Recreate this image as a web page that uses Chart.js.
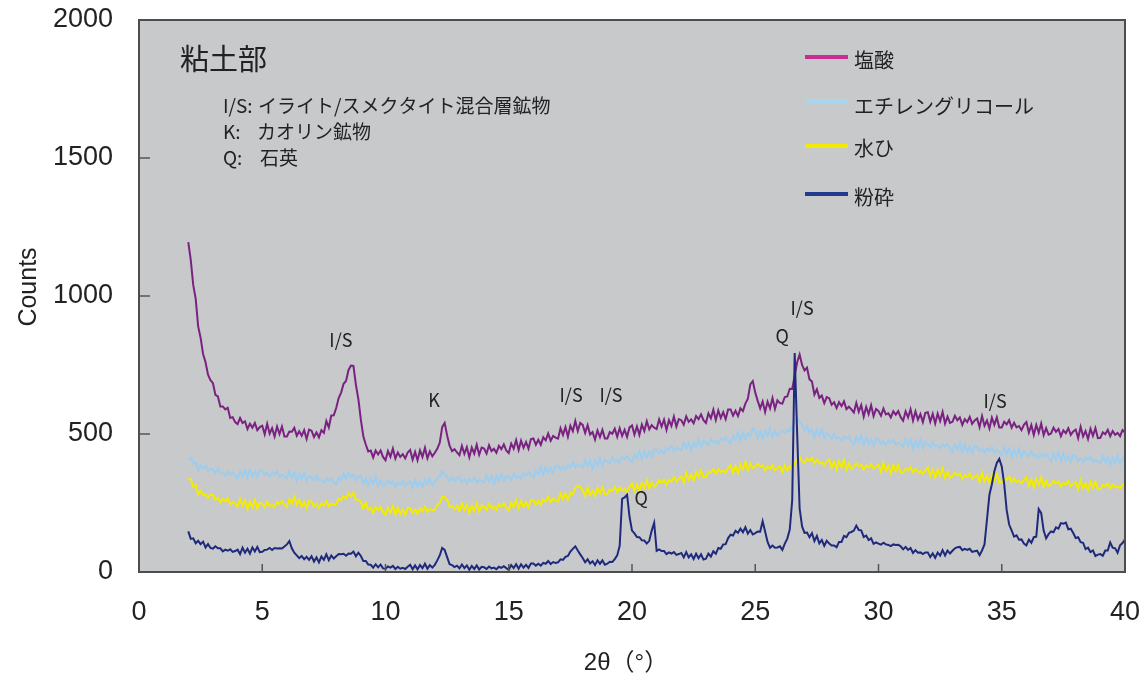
<!DOCTYPE html>
<html><head><meta charset="utf-8">
<script src="https://cdn.jsdelivr.net/npm/chart.js@4.4.1/dist/chart.umd.min.js"></script>
<style>html,body{margin:0;padding:0;background:#fff;}#wrap{width:1144px;height:679px;position:relative;}</style>
</head><body><div id="wrap"><canvas id="c" width="1144" height="679"></canvas></div>
<script>
// 2θ (degrees) sample positions
const twoTheta = [
2.0,2.1,2.2,2.3,2.4,2.5,2.6,2.7,2.8,2.9,
3.0,3.1,3.2,3.3,3.4,3.5,3.6,3.7,3.8,3.9,
4.0,4.1,4.2,4.3,4.4,4.5,4.6,4.7,4.8,4.9,
5.0,5.1,5.2,5.3,5.4,5.5,5.6,5.7,5.8,5.9,
6.0,6.1,6.2,6.3,6.4,6.5,6.6,6.7,6.8,6.9,
7.0,7.1,7.2,7.3,7.4,7.5,7.6,7.7,7.8,7.9,
8.0,8.1,8.2,8.3,8.4,8.5,8.6,8.7,8.8,8.9,
9.0,9.1,9.2,9.3,9.4,9.5,9.6,9.7,9.8,9.9,
10.0,10.1,10.2,10.3,10.4,10.5,10.6,10.7,10.8,10.9,
11.0,11.1,11.2,11.3,11.4,11.5,11.6,11.7,11.8,11.9,
12.0,12.1,12.2,12.3,12.4,12.5,12.6,12.7,12.8,12.9,
13.0,13.1,13.2,13.3,13.4,13.5,13.6,13.7,13.8,13.9,
14.0,14.1,14.2,14.3,14.4,14.5,14.6,14.7,14.8,14.9,
15.0,15.1,15.2,15.3,15.4,15.5,15.6,15.7,15.8,15.9,
16.0,16.1,16.2,16.3,16.4,16.5,16.6,16.7,16.8,16.9,
17.0,17.1,17.2,17.3,17.4,17.5,17.6,17.7,17.8,17.9,
18.0,18.1,18.2,18.3,18.4,18.5,18.6,18.7,18.8,18.9,
19.0,19.1,19.2,19.3,19.4,19.5,19.6,19.7,19.8,19.9,
20.0,20.1,20.2,20.3,20.4,20.5,20.6,20.7,20.8,20.9,
21.0,21.1,21.2,21.3,21.4,21.5,21.6,21.7,21.8,21.9,
22.0,22.1,22.2,22.3,22.4,22.5,22.6,22.7,22.8,22.9,
23.0,23.1,23.2,23.3,23.4,23.5,23.6,23.7,23.8,23.9,
24.0,24.1,24.2,24.3,24.4,24.5,24.6,24.7,24.8,24.9,
25.0,25.1,25.2,25.3,25.4,25.5,25.6,25.7,25.8,25.9,
26.0,26.1,26.2,26.3,26.4,26.5,26.6,26.7,26.8,26.9,
27.0,27.1,27.2,27.3,27.4,27.5,27.6,27.7,27.8,27.9,
28.0,28.1,28.2,28.3,28.4,28.5,28.6,28.7,28.8,28.9,
29.0,29.1,29.2,29.3,29.4,29.5,29.6,29.7,29.8,29.9,
30.0,30.1,30.2,30.3,30.4,30.5,30.6,30.7,30.8,30.9,
31.0,31.1,31.2,31.3,31.4,31.5,31.6,31.7,31.8,31.9,
32.0,32.1,32.2,32.3,32.4,32.5,32.6,32.7,32.8,32.9,
33.0,33.1,33.2,33.3,33.4,33.5,33.6,33.7,33.8,33.9,
34.0,34.1,34.2,34.3,34.4,34.5,34.6,34.7,34.8,34.9,
35.0,35.1,35.2,35.3,35.4,35.5,35.6,35.7,35.8,35.9,
36.0,36.1,36.2,36.3,36.4,36.5,36.6,36.7,36.8,36.9,
37.0,37.1,37.2,37.3,37.4,37.5,37.6,37.7,37.8,37.9,
38.0,38.1,38.2,38.3,38.4,38.5,38.6,38.7,38.8,38.9,
39.0,39.1,39.2,39.3,39.4,39.5,39.6,39.7,39.8,39.9,
40.0];

// 塩酸
const hclCounts = [
1195,1130,1040,990,890,848,790,760,715,695,
684,642,636,600,600,589,595,558,561,543,
536,558,540,546,518,537,523,540,514,525,
530,499,537,501,521,491,527,500,527,491,
491,509,508,522,494,510,494,514,482,516,
512,489,506,488,514,504,547,524,567,568,
594,630,650,682,692,732,748,747,678,626,
552,492,462,437,440,415,440,426,440,417,
405,438,417,447,411,433,417,427,412,433,
442,407,435,405,441,417,450,412,437,419,
432,446,468,525,540,495,458,438,445,433,
423,457,428,452,416,451,429,461,425,451,
447,429,459,438,446,432,457,445,462,440,
431,465,447,478,442,476,450,471,447,482,
484,461,479,461,488,477,502,476,493,487,
483,521,497,525,490,530,510,547,511,540,
533,504,532,498,507,480,513,489,515,484,
484,507,501,519,490,521,493,515,490,524,
531,498,527,497,534,511,546,517,532,523,
518,553,527,552,515,550,529,563,527,554,
550,534,564,544,553,539,565,554,571,550,
540,575,557,588,551,585,558,579,554,589,
589,567,584,565,593,583,610,628,680,692,
650,620,593,618,580,617,593,630,591,622,
612,610,634,636,664,663,712,760,788,750,
730,740,698,690,643,662,631,639,612,634,
630,606,615,594,615,601,618,590,599,589,
578,613,581,605,563,598,572,604,565,591,
583,566,592,571,575,560,582,570,583,561,
548,582,560,590,549,582,552,572,543,577,
579,545,573,538,574,547,580,538,563,540,
544,566,550,560,533,554,543,562,537,549,
556,525,565,530,549,520,559,533,560,524,
524,544,535,550,523,541,524,529,514,533,
543,505,532,497,533,505,538,496,521,498,
502,523,508,518,492,513,503,521,497,509,
516,485,526,491,511,482,519,493,521,485,
486,506,499,515,492,511,497,504,492,514,
505];

// エチレングリコール
const egCounts = [
409,415,392,398,369,386,375,386,365,374,
371,358,375,358,360,349,364,354,363,347,
338,365,347,371,342,370,346,364,343,370,
368,352,361,345,361,352,365,344,352,345,
338,365,341,360,329,356,336,360,330,349,
343,330,349,332,335,323,340,330,339,324,
317,345,332,357,336,361,345,352,333,347,
348,320,339,313,339,319,343,311,330,313,
316,333,320,329,308,325,316,331,311,323,
327,305,335,311,326,306,334,317,338,315,
326,340,346,365,355,345,330,342,328,340,
343,325,335,320,337,328,344,324,335,328,
323,350,329,348,319,347,330,355,327,348,
344,333,356,341,348,338,358,351,364,350,
341,370,355,381,352,380,359,377,358,386,
385,370,382,369,388,381,397,379,390,385,
379,406,383,404,374,403,385,412,384,406,
402,392,414,400,406,397,416,409,421,407,
398,427,412,438,409,438,416,435,416,444,
443,429,441,429,448,442,458,439,450,445,
440,469,448,469,440,469,453,480,452,474,
470,460,482,468,474,465,484,477,489,475,
466,495,480,505,476,504,483,502,493,519,
512,485,508,483,513,493,520,489,511,494,
503,512,505,515,510,530,538,560,545,535,
513,528,506,516,487,515,493,518,485,505,
495,484,500,485,486,476,490,482,490,475,
461,489,470,494,461,488,463,480,457,484,
480,465,473,460,475,468,480,461,468,463,
454,483,458,479,446,475,454,481,449,471,
463,453,471,456,458,448,463,455,463,448,
435,463,444,468,436,463,437,454,431,458,
453,437,446,432,447,439,452,432,440,434,
425,453,428,448,415,443,422,448,416,437,
429,418,436,421,423,413,428,420,428,413,
401,429,410,434,402,429,403,420,397,424,
419,403,412,398,414,406,419,399,407,401,
393,421,397,417,385,413,395,421,392,413,
404];

// 水ひ
const elutriatedCounts = [
336,336,309,315,282,295,279,281,268,281,
280,262,268,252,266,256,267,245,254,246,
237,264,240,259,227,255,235,261,230,251,
246,235,254,239,244,235,253,246,258,243,
235,264,249,273,244,261,237,253,231,257,
254,237,247,232,249,241,256,237,248,244,
245,265,260,275,266,284,273,288,263,261,
255,230,250,226,234,215,236,225,235,218,
207,233,216,239,208,233,210,226,207,233,
231,214,226,211,230,221,237,217,229,223,
226,242,250,273,271,262,236,240,228,240,
221,248,225,244,213,240,223,249,220,241,
236,225,246,231,236,226,245,237,248,233,
223,251,236,260,231,258,236,253,234,261,
260,244,257,243,263,255,273,253,266,260,
256,284,264,285,262,286,282,305,312,308,
297,275,306,279,294,275,304,285,307,281,
282,299,294,308,289,306,294,301,291,308,
320,294,317,293,323,305,333,303,325,309,
315,333,323,333,316,334,328,344,328,339,
346,325,359,334,352,332,362,344,368,343,
345,363,360,373,356,372,362,368,360,376,
387,360,384,359,390,371,399,368,392,376,
381,393,382,387,368,381,375,386,369,376,
383,362,386,368,383,372,396,405,418,400,
396,410,404,413,394,407,394,397,387,400,
408,378,400,372,401,379,405,371,393,373,
379,393,383,389,371,385,379,391,374,381,
388,363,396,366,383,358,388,365,388,358,
360,374,369,379,361,374,362,365,356,369,
378,348,370,342,371,349,375,341,362,342,
347,361,350,356,337,351,344,356,338,345,
351,326,359,330,347,323,353,331,354,325,
326,340,335,345,326,339,327,330,321,334,
343,313,336,308,338,316,343,309,331,311,
317,331,321,327,309,323,317,329,312,319,
325,300,333,304,321,297,327,305,328,299,
301,315,311,321,303,316,307,310,303,316,
312];

// 粉砕
const groundCounts = [
147,120,122,104,113,101,110,89,101,87,
85,93,86,86,75,81,77,82,73,76,
81,65,88,70,84,67,89,74,91,72,
73,80,81,87,80,87,85,86,85,92,
100,112,86,70,60,50,58,46,55,44,
57,38,53,35,56,44,64,43,60,49,
57,65,64,66,59,67,66,74,57,70,
58,40,40,27,26,16,28,17,27,13,
12,20,16,22,11,19,12,15,11,19,
26,10,24,10,25,14,30,12,25,16,
26,42,60,87,80,54,28,25,18,23,
13,27,14,24,8,22,11,24,9,19,
17,11,20,13,16,10,19,15,21,14,
8,25,14,28,12,28,16,26,15,31,
31,23,30,23,33,30,40,29,36,33,
35,46,44,55,58,74,84,93,78,64,
51,35,46,31,39,25,42,30,42,26,
30,37,36,47,60,95,265,270,280,200,
150,140,127,126,115,114,103,113,150,178,
77,82,76,76,65,71,67,72,62,65,
69,53,72,53,64,47,66,50,64,45,
48,67,56,75,66,87,84,100,101,123,
135,132,149,142,157,144,162,139,152,136,
141,147,146,184,147,109,88,96,88,89,
93,80,103,121,154,261,793,503,230,165,
142,143,126,141,112,131,104,116,95,113,
103,96,96,90,109,109,131,126,142,145,
150,168,152,151,127,132,116,122,102,107,
103,99,106,100,98,94,100,98,99,93,
82,91,80,87,69,79,70,71,65,71,
71,54,67,51,70,59,79,60,78,67,
77,86,90,91,79,84,80,84,73,75,
77,61,78,100,190,280,318,365,395,410,
382,318,224,172,151,128,133,117,118,103,
96,117,106,126,128,228,213,150,122,137,
147,144,162,157,177,175,179,155,157,141,
123,126,108,106,83,88,72,78,58,63,
65,59,78,78,107,88,86,70,97,105,
118];

const seriesNames = ['塩酸', 'エチレングリコール', '水ひ', '粉砕'];
const xTickValues = [0, 5, 10, 15, 20, 25, 30, 35, 40];
const yTickValues = [0, 500, 1000, 1500, 2000];
const chartTitle = '粘土部';
const noteKeys = ['I/S:', 'K:', 'Q:'];
const noteTexts = ['イライト/スメクタイト混合層鉱物', 'カオリン鉱物', '石英'];
const peakLabels = ['I/S', 'K', 'I/S', 'I/S', 'Q', 'Q', 'I/S', 'I/S'];
const peakLabelTheta = [8.19, 11.97, 17.53, 19.15, 20.37, 26.09, 26.9, 34.73];
const peakLabelCounts = [841, 623, 641, 641, 268, 855, 957, 620];
const xTitle = '2θ（°）';
const yTitle = 'Counts';

// styles
const traceColors = ['#7a2282', '#9ccdef', '#f3ec00', '#1f2a7c'];
const legendColors = ['#cc2b93', '#a8d6ec', '#f2ea00', '#243a8e'];
const legendY = [57, 101, 146, 194];
const legendTextY = [60, 106, 148, 197];
const drawOrder = [3, 2, 1, 0];

function pts(vals) { return twoTheta.map((t, i) => ({x: t, y: vals[i]})); }
const allVals = [hclCounts, egCounts, elutriatedCounts, groundCounts];

const CJK = '"Noto Sans CJK JP", "Noto Sans", sans-serif';
const NUM = '"Liberation Sans", Arial, sans-serif';

const decor = {
  id: 'decor',
  beforeDatasetsDraw(chart) {
    const {ctx, chartArea: a} = chart;
    ctx.save();
    ctx.fillStyle = '#c8c9cb';
    ctx.fillRect(a.left, a.top, a.right - a.left, a.bottom - a.top);
    ctx.restore();
  },
  afterDatasetsDraw(chart) {
    const {ctx, chartArea: a, scales: {x, y}} = chart;
    ctx.save();
    ctx.strokeStyle = '#555';
    ctx.lineWidth = 1.5;
    xTickValues.forEach(v => {
      const px = x.getPixelForValue(v);
      ctx.beginPath(); ctx.moveTo(px, a.bottom); ctx.lineTo(px, a.bottom - 8); ctx.stroke();
    });
    yTickValues.forEach(v => {
      const py = y.getPixelForValue(v);
      ctx.beginPath(); ctx.moveTo(a.left, py); ctx.lineTo(a.left + 11, py); ctx.stroke();
    });
    ctx.lineWidth = 2;
    ctx.strokeStyle = '#4d4d4d';
    ctx.strokeRect(a.left, a.top, a.right - a.left, a.bottom - a.top);

    // peak labels
    ctx.fillStyle = '#222';
    ctx.font = '18px ' + CJK;
    ctx.textAlign = 'center';
    ctx.textBaseline = 'middle';
    peakLabels.forEach((t, i) => {
      ctx.fillText(t, x.getPixelForValue(peakLabelTheta[i]), y.getPixelForValue(peakLabelCounts[i]));
    });

    // title & notes
    ctx.textAlign = 'left';
    ctx.font = '29px ' + CJK;
    ctx.fillText(chartTitle, 180, 59);
    ctx.font = '19px ' + CJK;
    const noteY = [106, 132, 158];
    const noteX = [258, 257, 260];
    noteKeys.forEach((k, i) => {
      ctx.fillText(k, 223, noteY[i]);
      ctx.fillText(noteTexts[i], noteX[i], noteY[i]);
    });

    // legend
    ctx.lineWidth = 4;
    seriesNames.forEach((n, i) => {
      ctx.strokeStyle = legendColors[i];
      ctx.beginPath(); ctx.moveTo(805, legendY[i]); ctx.lineTo(848, legendY[i]); ctx.stroke();
      ctx.fillStyle = '#222';
      ctx.font = '20px ' + CJK;
      ctx.fillText(n, 854, legendTextY[i]);
    });

    // axis titles
    ctx.fillStyle = '#222';
    ctx.textAlign = 'center';
    ctx.font = '24px ' + NUM + ', ' + CJK;
    ctx.fillText(xTitle, 626, 663);
    ctx.save();
    ctx.translate(29, 287);
    ctx.rotate(-Math.PI / 2);
    ctx.font = '25px ' + NUM;
    ctx.fillText(yTitle, 0, 0);
    ctx.restore();
    ctx.restore();
  }
};

new Chart(document.getElementById('c'), {
  type: 'line',
  data: {
    datasets: seriesNames.map((n, i) => ({
      label: n,
      data: pts(allVals[i]),
      borderColor: traceColors[i],
      backgroundColor: traceColors[i],
      borderWidth: 2,
      pointRadius: 0,
      tension: 0,
      fill: false,
      order: drawOrder[i]
    }))
  },
  options: {
    responsive: false,
    animation: false,
    devicePixelRatio: 1,
    layout: {padding: {left: 0, right: 19, top: 20, bottom: 0}},
    plugins: {legend: {display: false}, tooltip: {enabled: false}},
    scales: {
      x: {
        type: 'linear', min: 0, max: 40,
        afterFit(s) { s.height = 107; s.paddingLeft = 0; s.paddingRight = 0; },
        afterBuildTicks(s) { s.ticks = xTickValues.map(v => ({value: v})); },
        ticks: {color: '#222', font: {family: NUM, size: 27}, padding: 24, maxRotation: 0,
                callback: v => String(v)},
        grid: {display: false, drawTicks: false},
        border: {display: false}
      },
      y: {
        min: 0, max: 2000,
        afterFit(s) { s.width = 139; s.paddingTop = 0; s.paddingBottom = 0; },
        afterBuildTicks(s) { s.ticks = yTickValues.map(v => ({value: v})); },
        ticks: {color: '#222', font: {family: NUM, size: 27}, padding: 26,
                callback: v => String(v)},
        grid: {display: false, drawTicks: false},
        border: {display: false}
      }
    }
  },
  plugins: [decor]
});
</script></body></html>
